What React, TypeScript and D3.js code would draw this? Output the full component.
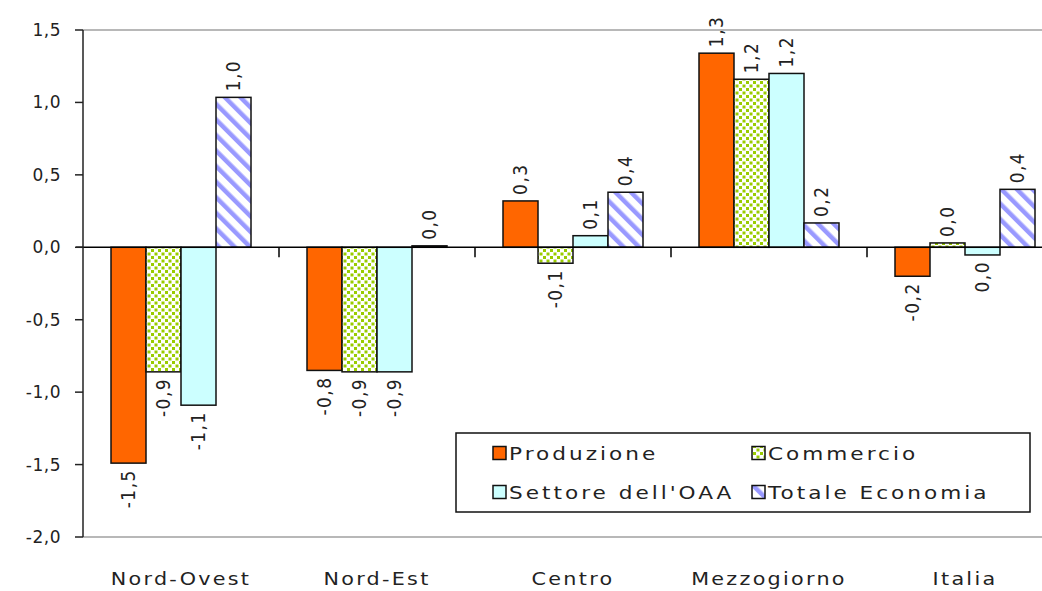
import React from "react";
import * as d3 from "d3";

const categories = ["Nord-Ovest", "Nord-Est", "Centro", "Mezzogiorno", "Italia"];
const seriesNames = ["Produzione", "Commercio", "Settore dell'OAA", "Totale Economia"];
const produzione = [-1.49, -0.85, 0.32, 1.34, -0.2];
const commercio = [-0.86, -0.86, -0.11, 1.16, 0.03];
const settore = [-1.09, -0.86, 0.08, 1.2, -0.053];
const totale = [1.035, 0.01, 0.38, 0.168, 0.4];
const produzioneLabels = ["-1,5", "-0,8", "0,3", "1,3", "-0,2"];
const commercioLabels = ["-0,9", "-0,9", "-0,1", "1,2", "0,0"];
const settoreLabels = ["-1,1", "-0,9", "0,1", "1,2", "0,0"];
const totaleLabels = ["1,0", "0,0", "0,4", "0,2", "0,4"];
const yTicks = [1.5, 1.0, 0.5, 0.0, -0.5, -1.0, -1.5, -2.0];

const W = 1042;
const H = 591;
const FONT = "'DejaVu Sans', Verdana, sans-serif";

export default function App() {
  const series = [produzione, commercio, settore, totale];
  const labels = [produzioneLabels, commercioLabels, settoreLabels, totaleLabels];
  const fills = ["#ff6600", "url(#dots)", "#ccffff", "url(#stripes)"];

  const y = d3.scaleLinear().domain([-2, 1.5]).range([537, 30]);
  const x = d3.scaleBand<string>().domain(categories).range([83, 1063]).padding(0);
  const xs = d3
    .scaleBand<number>()
    .domain(d3.range(seriesNames.length))
    .range([28, x.bandwidth() - 28])
    .padding(0);

  const fmt = (v: number) => v.toFixed(1).replace(".", ",");
  const y0 = y(0);

  return (
    <svg
      width={W}
      height={H}
      style={{ position: "absolute", left: 0, top: 0, background: "#fff" }}
      fontFamily={FONT}
    >
      <defs>
        <pattern id="dots" width="7" height="7" patternUnits="userSpaceOnUse">
          <rect width="7" height="7" fill="#ffffff" />
          <rect x="0.5" y="0.5" width="3" height="3" fill="#99cc00" />
          <rect x="4" y="4" width="3" height="3" fill="#99cc00" />
        </pattern>
        <pattern
          id="stripes"
          width="11"
          height="11"
          patternUnits="userSpaceOnUse"
          patternTransform="rotate(-45)"
        >
          <rect width="11" height="11" fill="#ffffff" />
          <rect x="0" y="0" width="4.5" height="11" fill="#9999ff" />
        </pattern>
      </defs>

      {/* plot frame */}
      <line x1={83} x2={W} y1={30} y2={30} stroke="#a0a0a0" strokeWidth={1.5} />
      <line x1={83} x2={W} y1={537} y2={537} stroke="#a0a0a0" strokeWidth={1.5} />

      {/* bars */}
      {categories.map((c, ci) =>
        series.map((s, si) => {
          const v = s[ci];
          const bx = (x(c) as number) + (xs(si) as number);
          const top = Math.min(y(v), y0);
          const h = Math.abs(y(v) - y0);
          return (
            <rect
              key={`b-${ci}-${si}`}
              x={bx}
              y={top}
              width={xs.bandwidth()}
              height={h}
              fill={fills[si]}
              stroke="#111"
              strokeWidth={1.5}
            />
          );
        })
      )}

      {/* zero line */}
      <line x1={76} x2={W} y1={y0} y2={y0} stroke="#000" strokeWidth={1.5} />
      {/* category ticks */}
      {categories.slice(1).map((c) => (
        <line
          key={`ct-${c}`}
          x1={x(c) as number}
          x2={x(c) as number}
          y1={y0}
          y2={y0 + 10}
          stroke="#000"
          strokeWidth={1.5}
        />
      ))}

      {/* y axis */}
      <line x1={83} x2={83} y1={30} y2={537} stroke="#222" strokeWidth={1.5} />
      {yTicks.map((t) => (
        <g key={`yt-${t}`}>
          <line x1={75} x2={83} y1={y(t)} y2={y(t)} stroke="#222" strokeWidth={1.5} />
          <text
            x={61}
            y={y(t)}
            textAnchor="end"
            dominantBaseline="central"
            fontSize={17}
            letterSpacing={0.5}
            fill="#222"
          >
            {fmt(t)}
          </text>
        </g>
      ))}

      {/* value labels */}
      {categories.map((c, ci) =>
        series.map((s, si) => {
          const v = s[ci];
          const cx = (x(c) as number) + (xs(si) as number) + xs.bandwidth() / 2;
          const pos = v >= 0;
          const ly = pos ? y(v) - 6 : y(v) + 6;
          return (
            <text
              key={`l-${ci}-${si}`}
              transform={`translate(${cx},${ly}) rotate(-90) scale(1,1.1)`}
              textAnchor={pos ? "start" : "end"}
              dominantBaseline="central"
              fontSize={17}
              letterSpacing={1.5}
              fill="#222"
            >
              {labels[si][ci]}
            </text>
          );
        })
      )}

      {/* category labels */}
      {categories.map((c) => (
        <text
          key={`cl-${c}`}
          transform={`translate(${(x(c) as number) + x.bandwidth() / 2},585) scale(1.15,1)`}
          textAnchor="middle"
          fontSize={18}
          letterSpacing={2}
          fill="#222"
        >
          {c}
        </text>
      ))}

      {/* legend */}
      <g>
        <rect x={456} y={433} width={574} height={79} fill="#fff" stroke="#111" strokeWidth={1.5} />
        {seriesNames.map((n, i) => {
          const col = i % 2;
          const row = Math.floor(i / 2);
          const sx = col === 0 ? 493 : 752;
          const sy = row === 0 ? 453 : 492;
          return (
            <g key={`lg-${n}`}>
              <rect
                x={sx}
                y={sy - 6.5}
                width={13}
                height={13}
                fill={fills[i]}
                stroke="#111"
                strokeWidth={1.5}
              />
              <text
                transform={`translate(${sx + 16},${sy + 1}) scale(1.2,1)`}
                dominantBaseline="central"
                fontSize={18}
                letterSpacing={2.5}
                fill="#222"
              >
                {n}
              </text>
            </g>
          );
        })}
      </g>
    </svg>
  );
}
